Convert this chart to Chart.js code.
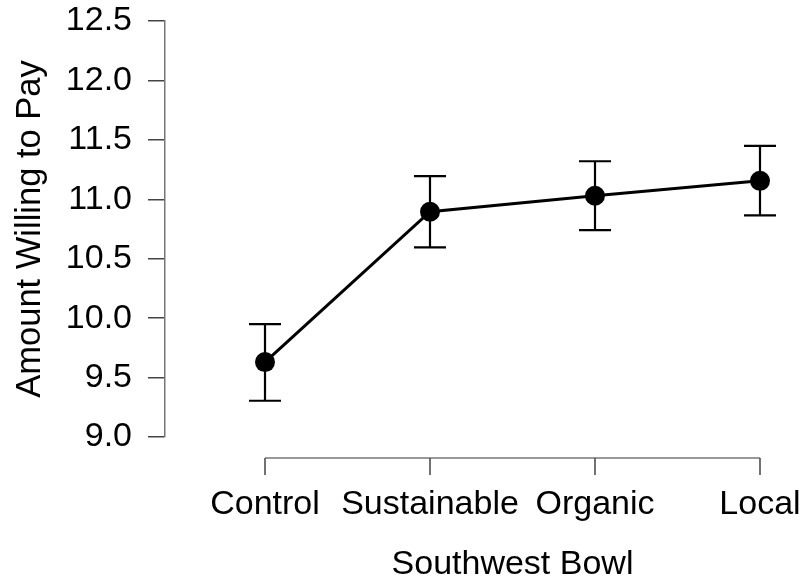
<!DOCTYPE html>
<html>
<head>
<meta charset="utf-8">
<script src="https://cdn.jsdelivr.net/npm/chart.js@4"></script>
<style>
  html, body { margin: 0; padding: 0; background: #ffffff; }
  #wrap { width: 802px; height: 582px; }
</style>
</head>
<body>
<div id="wrap"><canvas id="myChart" width="802" height="582"></canvas></div>
<script>
const categories = ["Control", "Sustainable", "Organic", "Local"];
const means = [9.63, 10.895, 11.03, 11.155];
const lower = [9.305, 10.595, 10.74, 10.865];
const upper = [9.95, 11.195, 11.32, 11.45];
const yTicks = [9.0, 9.5, 10.0, 10.5, 11.0, 11.5, 12.0, 12.5];

const font = "'Liberation Sans', Arial, sans-serif";

// error bars, drawn behind the points
const errorBars = {
    id: "errorBars",
    beforeDatasetsDraw(chart) {
        const ctx = chart.ctx;
        const x = chart.scales.x, y = chart.scales.y;
        ctx.save();
        ctx.strokeStyle = "#000000";
        ctx.lineWidth = 2.2;
        categories.forEach((c, i) => {
            const px = x.getPixelForValue(i);
            const lo = y.getPixelForValue(lower[i]);
            const hi = y.getPixelForValue(upper[i]);
            ctx.beginPath();
            ctx.moveTo(px, lo); ctx.lineTo(px, hi);
            ctx.moveTo(px - 16, lo); ctx.lineTo(px + 16, lo);
            ctx.moveTo(px - 16, hi); ctx.lineTo(px + 16, hi);
            ctx.stroke();
        });
        ctx.restore();
    }
};

// detached x axis, like the JASP style
const xAxis = {
    id: "xAxis",
    afterDraw(chart) {
        const ctx = chart.ctx;
        const x = chart.scales.x;
        const top = chart.chartArea.bottom + 21;
        const first = x.getPixelForValue(0);
        const last = x.getPixelForValue(categories.length - 1);
        ctx.save();
        ctx.strokeStyle = "#777777";
        ctx.lineWidth = 1.5;
        ctx.beginPath();
        ctx.moveTo(first, top); ctx.lineTo(last, top);
        ctx.stroke();
        ctx.strokeStyle = "#444444";
        ctx.beginPath();
        categories.forEach((c, i) => {
            const px = x.getPixelForValue(i);
            ctx.moveTo(px, top); ctx.lineTo(px, top + 17);
        });
        ctx.stroke();
        ctx.fillStyle = "#000000";
        ctx.font = "34px " + font;
        ctx.textAlign = "center";
        ctx.textBaseline = "alphabetic";
        categories.forEach((c, i) => {
            ctx.fillText(c, x.getPixelForValue(i), top + 56);
        });
        ctx.fillText("Southwest Bowl", (first + last) / 2, top + 116);
        ctx.restore();
    }
};

const ctx = document.getElementById("myChart").getContext("2d");
new Chart(ctx, {
    type: "line",
    data: {
        datasets: [{
            data: means.map((v, i) => ({ x: i, y: v })),
            borderColor: "#000000",
            backgroundColor: "#000000",
            borderWidth: 3,
            pointRadius: 10,
            pointHoverRadius: 10,
            pointBackgroundColor: "#000000",
            pointBorderWidth: 0,
            tension: 0
        }]
    },
    options: {
        responsive: false,
        animation: false,
        layout: { padding: { top: 21, bottom: 145, left: 0, right: 12 } },
        plugins: {
            legend: { display: false },
            tooltip: { enabled: false }
        },
        scales: {
            x: {
                type: "linear",
                display: false,
                min: -100 / 165,
                max: 3 + 30 / 165
            },
            y: {
                min: 9,
                max: 12.5,
                afterBuildTicks: axis => {
                    axis.ticks = yTicks.map(v => ({ value: v }));
                },
                afterFit: axis => {
                    axis.width = 165;
                    axis.paddingTop = 0;
                    axis.paddingBottom = 0;
                },
                border: { display: true, color: "#777777", width: 1.5 },
                grid: {
                    drawOnChartArea: false,
                    drawTicks: true,
                    tickLength: 17,
                    color: "#444444",
                    lineWidth: 1.5
                },
                ticks: {
                    color: "#000000",
                    padding: 16,
                    font: { family: font, size: 34 },
                    callback: v => v.toFixed(1)
                },
                title: {
                    display: true,
                    text: "Amount Willing to Pay",
                    color: "#000000",
                    font: { family: font, size: 34.5 },
                    padding: { top: 10, bottom: 0 }
                }
            }
        }
    },
    plugins: [errorBars, xAxis]
});
</script>
</body>
</html>
